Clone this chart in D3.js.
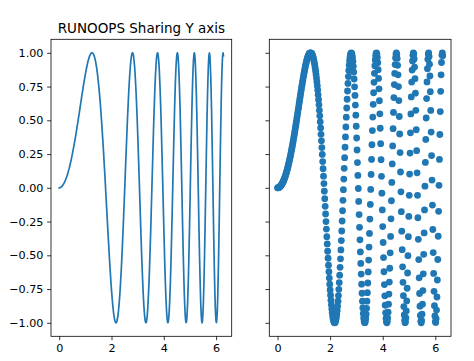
<!DOCTYPE html>
<html>
<head>
<meta charset="utf-8">
<script src="https://cdn.jsdelivr.net/npm/d3@7"></script>
<style>
    body { margin: 0; background: #fff; }
    svg text { font-family: "DejaVu Sans", sans-serif; fill: #000; }
</style>
</head>
<body>
<div id="chart"></div>
<script>
// ----------------------
// Two panels sharing the y axis: line on the left, scatter on the right
// ----------------------

const titleText = "RUNOOPS Sharing Y axis";
const xTicks = [0, 2, 4, 6];
const yTicks = [-1.00, -0.75, -0.50, -0.25, 0.00, 0.25, 0.50, 0.75, 1.00];

// x positions (400 samples)
const xs = [
    0, 0.016, 0.031, 0.047, 0.063, 0.079, 0.094, 0.110, 0.126, 0.142,
    0.157, 0.173, 0.189, 0.205, 0.220, 0.236, 0.252, 0.268, 0.283, 0.299,
    0.315, 0.331, 0.346, 0.362, 0.378, 0.394, 0.409, 0.425, 0.441, 0.457,
    0.472, 0.488, 0.504, 0.520, 0.535, 0.551, 0.567, 0.583, 0.598, 0.614,
    0.630, 0.646, 0.661, 0.677, 0.693, 0.709, 0.724, 0.740, 0.756, 0.772,
    0.787, 0.803, 0.819, 0.835, 0.850, 0.866, 0.882, 0.898, 0.913, 0.929,
    0.945, 0.961, 0.976, 0.992, 1.008, 1.024, 1.039, 1.055, 1.071, 1.087,
    1.102, 1.118, 1.134, 1.150, 1.165, 1.181, 1.197, 1.213, 1.228, 1.244,
    1.260, 1.276, 1.291, 1.307, 1.323, 1.339, 1.354, 1.370, 1.386, 1.402,
    1.417, 1.433, 1.449, 1.465, 1.480, 1.496, 1.512, 1.527, 1.543, 1.559,
    1.575, 1.590, 1.606, 1.622, 1.638, 1.653, 1.669, 1.685, 1.701, 1.716,
    1.732, 1.748, 1.764, 1.779, 1.795, 1.811, 1.827, 1.842, 1.858, 1.874,
    1.890, 1.905, 1.921, 1.937, 1.953, 1.968, 1.984, 2.000, 2.016, 2.031,
    2.047, 2.063, 2.079, 2.094, 2.110, 2.126, 2.142, 2.157, 2.173, 2.189,
    2.205, 2.220, 2.236, 2.252, 2.268, 2.283, 2.299, 2.315, 2.331, 2.346,
    2.362, 2.378, 2.394, 2.409, 2.425, 2.441, 2.457, 2.472, 2.488, 2.504,
    2.520, 2.535, 2.551, 2.567, 2.583, 2.598, 2.614, 2.630, 2.646, 2.661,
    2.677, 2.693, 2.709, 2.724, 2.740, 2.756, 2.772, 2.787, 2.803, 2.819,
    2.835, 2.850, 2.866, 2.882, 2.898, 2.913, 2.929, 2.945, 2.960, 2.976,
    2.992, 3.008, 3.023, 3.039, 3.055, 3.071, 3.086, 3.102, 3.118, 3.134,
    3.149, 3.165, 3.181, 3.197, 3.212, 3.228, 3.244, 3.260, 3.275, 3.291,
    3.307, 3.323, 3.338, 3.354, 3.370, 3.386, 3.401, 3.417, 3.433, 3.449,
    3.464, 3.480, 3.496, 3.512, 3.527, 3.543, 3.559, 3.575, 3.590, 3.606,
    3.622, 3.638, 3.653, 3.669, 3.685, 3.701, 3.716, 3.732, 3.748, 3.764,
    3.779, 3.795, 3.811, 3.827, 3.842, 3.858, 3.874, 3.890, 3.905, 3.921,
    3.937, 3.953, 3.968, 3.984, 4.000, 4.016, 4.031, 4.047, 4.063, 4.079,
    4.094, 4.110, 4.126, 4.142, 4.157, 4.173, 4.189, 4.205, 4.220, 4.236,
    4.252, 4.268, 4.283, 4.299, 4.315, 4.331, 4.346, 4.362, 4.378, 4.394,
    4.409, 4.425, 4.441, 4.456, 4.472, 4.488, 4.504, 4.519, 4.535, 4.551,
    4.567, 4.582, 4.598, 4.614, 4.630, 4.645, 4.661, 4.677, 4.693, 4.708,
    4.724, 4.740, 4.756, 4.771, 4.787, 4.803, 4.819, 4.834, 4.850, 4.866,
    4.882, 4.897, 4.913, 4.929, 4.945, 4.960, 4.976, 4.992, 5.008, 5.023,
    5.039, 5.055, 5.071, 5.086, 5.102, 5.118, 5.134, 5.149, 5.165, 5.181,
    5.197, 5.212, 5.228, 5.244, 5.260, 5.275, 5.291, 5.307, 5.323, 5.338,
    5.354, 5.370, 5.386, 5.401, 5.417, 5.433, 5.449, 5.464, 5.480, 5.496,
    5.512, 5.527, 5.543, 5.559, 5.575, 5.590, 5.606, 5.622, 5.638, 5.653,
    5.669, 5.685, 5.701, 5.716, 5.732, 5.748, 5.764, 5.779, 5.795, 5.811,
    5.827, 5.842, 5.858, 5.874, 5.890, 5.905, 5.921, 5.937, 5.952, 5.968,
    5.984, 6.000, 6.015, 6.031, 6.047, 6.063, 6.078, 6.094, 6.110, 6.126,
    6.141, 6.157, 6.173, 6.189, 6.204, 6.220, 6.236, 6.252, 6.267, 6.283
];

// y values, same samples for both panels
const ys = [
    0, 0.000, 0.001, 0.002, 0.004, 0.006, 0.009, 0.012, 0.016, 0.020,
    0.025, 0.030, 0.036, 0.042, 0.049, 0.056, 0.063, 0.072, 0.080, 0.089,
    0.099, 0.109, 0.120, 0.131, 0.142, 0.154, 0.167, 0.180, 0.193, 0.207,
    0.221, 0.236, 0.251, 0.267, 0.283, 0.299, 0.316, 0.333, 0.350, 0.368,
    0.386, 0.405, 0.424, 0.443, 0.462, 0.481, 0.501, 0.521, 0.541, 0.561,
    0.581, 0.601, 0.621, 0.642, 0.662, 0.682, 0.702, 0.722, 0.741, 0.760,
    0.779, 0.797, 0.815, 0.833, 0.850, 0.866, 0.882, 0.897, 0.911, 0.925,
    0.937, 0.949, 0.960, 0.969, 0.977, 0.985, 0.990, 0.995, 0.998, 1.000,
    1.000, 0.998, 0.995, 0.991, 0.984, 0.976, 0.966, 0.953, 0.940, 0.924,
    0.906, 0.886, 0.864, 0.840, 0.814, 0.786, 0.756, 0.724, 0.689, 0.653,
    0.615, 0.574, 0.533, 0.489, 0.443, 0.396, 0.348, 0.298, 0.247, 0.194,
    0.141, 0.086, 0.031, -0.025, -0.081, -0.137, -0.194, -0.250, -0.306, -0.362,
    -0.416, -0.470, -0.522, -0.573, -0.622, -0.669, -0.714, -0.757, -0.796, -0.833,
    -0.867, -0.898, -0.924, -0.947, -0.966, -0.981, -0.992, -0.998, -1.000, -0.997,
    -0.989, -0.976, -0.959, -0.936, -0.909, -0.877, -0.840, -0.798, -0.752, -0.702,
    -0.647, -0.589, -0.526, -0.460, -0.391, -0.320, -0.246, -0.170, -0.093, -0.014,
    0.065, 0.144, 0.223, 0.301, 0.377, 0.451, 0.523, 0.591, 0.656, 0.717,
    0.773, 0.824, 0.869, 0.908, 0.941, 0.966, 0.985, 0.996, 1.000, 0.996,
    0.984, 0.964, 0.936, 0.900, 0.857, 0.806, 0.748, 0.684, 0.613, 0.538,
    0.456, 0.369, 0.280, 0.187, 0.092, -0.005, -0.101, -0.198, -0.293, -0.385,
    -0.475, -0.560, -0.639, -0.714, -0.781, -0.840, -0.890, -0.932, -0.965, -0.987,
    -0.998, -0.999, -0.989, -0.968, -0.936, -0.893, -0.840, -0.777, -0.705, -0.623,
    -0.535, -0.439, -0.338, -0.232, -0.123, -0.012, 0.099, 0.210, 0.319, 0.424,
    0.524, 0.618, 0.704, 0.781, 0.848, 0.904, 0.947, 0.978, 0.996, 1.000,
    0.989, 0.965, 0.927, 0.875, 0.810, 0.733, 0.645, 0.548, 0.441, 0.327,
    0.208, 0.085, -0.040, -0.164, -0.287, -0.405, -0.517, -0.622, -0.717, -0.800,
    -0.870, -0.926, -0.967, -0.992, -1.000, -0.991, -0.965, -0.921, -0.862, -0.787,
    -0.698, -0.596, -0.482, -0.360, -0.230, -0.096, 0.040, 0.177, 0.310, 0.438,
    0.558, 0.668, 0.765, 0.847, 0.913, 0.962, 0.991, 1.000, 0.989, 0.958,
    0.907, 0.837, 0.750, 0.646, 0.528, 0.399, 0.261, 0.117, -0.030, -0.177,
    -0.321, -0.458, -0.585, -0.700, -0.799, -0.880, -0.942, -0.982, -0.999, -0.993,
    -0.964, -0.912, -0.838, -0.744, -0.631, -0.503, -0.362, -0.212, -0.056, 0.102,
    0.257, 0.407, 0.547, 0.673, 0.783, 0.872, 0.940, 0.982, 1.000, 0.991,
    0.955, 0.894, 0.808, 0.701, 0.574, 0.430, 0.275, 0.111, -0.056, -0.222,
    -0.382, -0.532, -0.667, -0.783, -0.877, -0.946, -0.988, -1.000, -0.983, -0.936,
    -0.862, -0.761, -0.637, -0.493, -0.334, -0.164, 0.012, 0.188, 0.358, 0.517,
    0.661, 0.784, 0.882, 0.952, 0.991, 0.999, 0.973, 0.916, 0.828, 0.712,
    0.573, 0.413, 0.239, 0.057, -0.128, -0.309, -0.480, -0.634, -0.767, -0.873,
    -0.949, -0.991, -0.998, -0.970, -0.906, -0.809, -0.683, -0.531, -0.359, -0.174,
    0.018, 0.210, 0.395, 0.565, 0.715, 0.837, 0.928, 0.983, 1.000, 0.978
];

const points = xs.map((x, i) => ({ x: x, y: ys[i] }));

const width = 474;
const height = 361;
const blue = "#1f77b4";

const svg = d3.select("#chart")
    .append("svg")
    .attr("width", width)
    .attr("height", height)
    .style("display", "block");

// axes frames (pixel boxes)
const axTop = 39.3, axBottom = 336.3;
const panels = [
    { left: 51, right: 231.7, labels: true },
    { left: 269.3, right: 451, labels: false }
];

// 5% margins like matplotlib autoscale
const xExt = d3.extent(xs);
const xPad = (xExt[1] - xExt[0]) * 0.05;
const yExt = d3.extent(ys);
const yPad = (yExt[1] - yExt[0]) * 0.05;

const y = d3.scaleLinear()
    .domain([yExt[0] - yPad, yExt[1] + yPad])
    .range([axBottom, axTop]);

panels.forEach((p, k) => {
    const x = d3.scaleLinear()
        .domain([xExt[0] - xPad, xExt[1] + xPad])
        .range([p.left, p.right]);

    const clipId = "clip" + k;
    svg.append("clipPath").attr("id", clipId)
        .append("rect")
        .attr("x", p.left).attr("y", axTop)
        .attr("width", p.right - p.left).attr("height", axBottom - axTop);

    const g = svg.append("g").attr("clip-path", `url(#${clipId})`);

    if (k === 0) {
        const line = d3.line().x(d => x(d.x)).y(d => y(d.y));
        g.append("path")
            .datum(points)
            .attr("d", line)
            .attr("fill", "none")
            .attr("stroke", blue)
            .attr("stroke-width", 1.7)
            .attr("stroke-linejoin", "round")
            .attr("stroke-linecap", "square");
    } else {
        g.selectAll("circle")
            .data(points)
            .enter()
            .append("circle")
            .attr("cx", d => x(d.x))
            .attr("cy", d => y(d.y))
            .attr("r", 3.4)
            .attr("fill", blue);
    }

    // x axis
    const xAxis = d3.axisBottom(x)
        .tickValues(xTicks)
        .tickFormat(d3.format("d"))
        .tickSize(3.9)
        .tickPadding(3.6);
    const gx = svg.append("g")
        .attr("transform", `translate(0,${axBottom})`)
        .call(xAxis);

    // y axis
    const yAxis = d3.axisLeft(y)
        .tickValues(yTicks)
        .tickFormat(p.labels ? d3.format(".2f") : "")
        .tickSize(3.9)
        .tickPadding(3.6);
    const gy = svg.append("g")
        .attr("transform", `translate(${p.left},0)`)
        .call(yAxis);

    [gx, gy].forEach(a => {
        a.select(".domain").remove();
        a.selectAll("line").attr("stroke", "#000").attr("stroke-width", 0.8);
        a.selectAll("text")
            .attr("font-family", "DejaVu Sans, sans-serif")
            .attr("font-size", "11.2px")
            .attr("fill", "#000");
    });

    // frame
    svg.append("rect")
        .attr("x", p.left).attr("y", axTop)
        .attr("width", p.right - p.left).attr("height", axBottom - axTop)
        .attr("fill", "none")
        .attr("stroke", "#000")
        .attr("stroke-width", 0.8);
});

// title over the left panel
svg.append("text")
    .attr("x", (panels[0].left + panels[0].right) / 2)
    .attr("y", 32.5)
    .attr("text-anchor", "middle")
    .attr("font-size", "13.5px")
    .text(titleText);
</script>
</body>
</html>
